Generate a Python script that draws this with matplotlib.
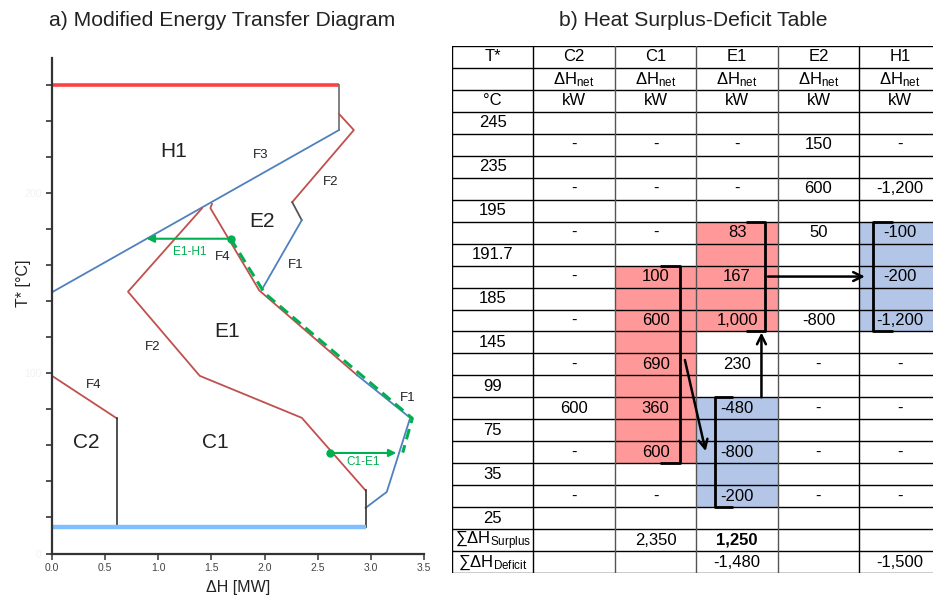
import matplotlib
matplotlib.use("Agg")
import matplotlib.pyplot as plt
from matplotlib.patches import Rectangle

plt.rcParams['font.family'] = ['Liberation Sans', 'DejaVu Sans']
plt.rcParams['mathtext.fontset'] = 'custom'
plt.rcParams['mathtext.rm'] = 'Liberation Sans'
plt.rcParams['mathtext.default'] = 'regular'

# ---- a) energy transfer diagram data (dH in MW, T* in C) ----
top_x, top_y = [0.0, 2.70], [260, 260]
h1_x, h1_y = [0.0, 2.70], [145, 235]
h1_cap_x, h1_cap_y = [2.70, 2.70], [235, 260]
e2_f2_x, e2_f2_y = [2.70, 2.84, 2.26], [244, 235, 195]
e2_step_x, e2_step_y = [2.26, 2.35], [195, 185]
e2_f1_x, e2_f1_y = [2.35, 1.98], [185, 147]
e1_f4_x, e1_f4_y = [1.505, 1.49, 1.95, 2.87], [194, 191.7, 146, 99]
e1_f1_x, e1_f1_y = [2.87, 3.37, 3.15, 2.95], [99, 75.3, 34.2, 25.3]
c1_f2_x, c1_f2_y = [2.95, 2.35, 1.39, 0.715, 1.41], [35, 75.3, 98.6, 145.3, 191.5]
c1_cap_x, c1_cap_y = [2.95, 2.95], [14.5, 35]
c2_f4_x, c2_f4_y = [0.0, 0.61], [98.6, 75]
c2_cap_x, c2_cap_y = [0.61, 0.61], [14.5, 75]
base_x, base_y = [0.0, 2.95], [14.5, 14.5]
green_x = [1.68, 1.72, 2.0, 3.39, 3.30]
green_y = [174.7, 171, 144.5, 75, 56]
e1h1_from, e1h1_to, e1h1_T = 1.68, 0.89, 174.7
c1e1_from, c1e1_to, c1e1_T = 2.62, 3.24, 55.8

# ---- b) heat surplus-deficit table data ----
streams = ['C2', 'C1', 'E1', 'E2', 'H1']
temps = ['245', '235', '195', '191.7', '185', '145', '99', '75', '35', '25']
dh_C2 = ['-', '-', '-', '-', '-', '-', '600', '-', '-']
dh_C1 = ['-', '-', '-', '100', '600', '690', '360', '600', '-']
dh_E1 = ['-', '-', '83', '167', '1,000', '230', '-480', '-800', '-200']
dh_E2 = ['150', '600', '50', '', '-800', '-', '-', '-', '-']
dh_H1 = ['-', '-1,200', '-100', '-200', '-1,200', '-', '-', '-', '-']
surplus = ['', '2,350', '1,250', '', '']
deficit = ['', '', '-1,480', '', '-1,500']

RED = '#c0504d'
BLUE = '#4f81bd'
GREEN = '#00b050'

fig = plt.figure(figsize=(9.33, 5.99), dpi=100)

# ================= left panel =================
ax = fig.add_axes([52 / 933, 45.5 / 599, 372 / 933, 495.5 / 599])
ax.plot(top_x, top_y, color='#ff4040', lw=2.6, solid_capstyle='butt')
ax.plot(h1_cap_x, h1_cap_y, color='#777777', lw=1.3)
ax.plot(h1_x, h1_y, color=BLUE, lw=1.3)
ax.plot(e2_f2_x, e2_f2_y, color=RED, lw=1.3)
ax.plot(e2_step_x, e2_step_y, color='#555555', lw=1.3)
ax.plot(e2_f1_x, e2_f1_y, color=BLUE, lw=1.3)
ax.plot(e1_f4_x, e1_f4_y, color=RED, lw=1.3)
ax.plot(e1_f1_x, e1_f1_y, color=BLUE, lw=1.3)
ax.plot(c1_f2_x, c1_f2_y, color=RED, lw=1.3)
ax.plot(c1_cap_x, c1_cap_y, color='#333333', lw=1.2)
ax.plot(c2_f4_x, c2_f4_y, color=RED, lw=1.3)
ax.plot(c2_cap_x, c2_cap_y, color='#333333', lw=1.2)
ax.plot(base_x, base_y, color='#7fbfff', lw=3.2, solid_capstyle='butt')
ax.plot(green_x, green_y, color=GREEN, lw=2.2, ls=(0, (3.5, 2)))

for x0, x1, t in [(e1h1_from, e1h1_to, e1h1_T), (c1e1_from, c1e1_to, c1e1_T)]:
    ax.plot([x0], [t], 'o', color=GREEN, ms=5)
    ax.annotate('', xy=(x1, t), xytext=(x0, t),
                arrowprops=dict(arrowstyle='-|>', color=GREEN, lw=1.5, mutation_scale=11,
                                shrinkA=0, shrinkB=0))

for txt, x, y, fs, c in [('H1', 1.14, 223, 15, '#222'), ('E2', 1.98, 184.2, 15, '#222'),
                         ('E1', 1.65, 123, 15, '#222'), ('C2', 0.32, 61.4, 15, '#222'),
                         ('C1', 1.54, 61.4, 15, '#222'), ('F3', 1.96, 221.4, 9.5, '#222'),
                         ('F2', 2.62, 206.4, 9.5, '#222'), ('F4', 1.61, 164.7, 9.5, '#222'),
                         ('F1', 2.29, 160.3, 9.5, '#222'), ('F2', 0.95, 114.7, 9.5, '#222'),
                         ('F4', 0.39, 93.6, 9.5, '#222'), ('F1', 3.35, 86.4, 9.5, '#222'),
                         ('E1-H1', 1.30, 167.5, 8.5, GREEN), ('C1-E1', 2.93, 50.8, 8.5, GREEN)]:
    ax.text(x, y, txt, fontsize=fs, color=c, ha='center', va='center')

ax.set_xlim(0, 3.5)
ax.set_ylim(0, 275)
ax.set_xticks([0, 0.5, 1.0, 1.5, 2.0, 2.5, 3.0, 3.5])
ax.set_xticklabels(['0.0', '0.5', '1.0', '1.5', '2.0', '2.5', '3.0', '3.5'])
ax.set_yticks(range(0, 261, 20))
ax.set_yticklabels([str(v) if v % 100 == 0 else '' for v in range(0, 261, 20)])
ax.tick_params(axis='x', labelsize=7.5, colors='#444444', length=4, width=1.2, pad=3)
ax.tick_params(axis='y', labelsize=7.5, labelcolor='#f2f2f2', color='#333333', length=4, width=1.2)
for s in ['top', 'right']:
    ax.spines[s].set_visible(False)
for s in ['left', 'bottom']:
    ax.spines[s].set_color('#333333')
    ax.spines[s].set_linewidth(1.6)
ax.set_xlabel('ΔH [MW]', fontsize=11.5, color='#222222', labelpad=5)
ax.set_ylabel('T* [°C]', fontsize=11.5, color='#222222')
ax.yaxis.set_label_coords(-0.056, 0.546)
fig.text(222 / 933, 1 - 21 / 599, 'a) Modified Energy Transfer Diagram', fontsize=15.2,
         color='#222222', ha='center', va='center')

# ================= right panel: table =================
tb = fig.add_axes([452 / 933, 26 / 599, 488.6 / 933, 527 / 599])
tb.set_xlim(0, 6)
tb.set_ylim(24, 0)
tb.axis('off')

fills = [(3, 8, 5, '#ff9999'), (2, 10, 9, '#ff9999'), (3, 16, 5, '#b4c6e7'), (5, 8, 5, '#b4c6e7')]
for col, row, n, fc in fills:
    tb.add_patch(Rectangle((col, row), 1, n, facecolor=fc, edgecolor='none', zorder=0))

for r in range(25):
    tb.plot([0, 6], [r, r], color='black', lw=1.0, zorder=2)
for c in range(7):
    col_color = '#555555' if c in (2, 3, 4) else 'black'
    tb.plot([c, c], [0, 24], color=col_color, lw=1.0, zorder=2)

fs = 12
tb.text(0.5, 0.5, 'T*', ha='center', va='center', fontsize=fs)
tb.text(0.5, 2.5, '°C', ha='center', va='center', fontsize=fs)
for i, s in enumerate(streams):
    tb.text(i + 1.5, 0.5, s, ha='center', va='center', fontsize=fs)
    tb.text(i + 1.5, 1.55, r'ΔH$_{\mathrm{net}}$', ha='center', va='center', fontsize=fs)
    tb.text(i + 1.5, 2.5, 'kW', ha='center', va='center', fontsize=fs)
for i, t in enumerate(temps):
    tb.text(0.5, 3.5 + 2 * i, t, ha='center', va='center', fontsize=fs)
for j, col in enumerate([dh_C2, dh_C1, dh_E1, dh_E2, dh_H1]):
    for i, v in enumerate(col):
        tb.text(j + 1.5, 4.5 + 2 * i, v, ha='center', va='center', fontsize=fs, zorder=3)
tb.text(0.5, 22.55, r'∑ΔH$_{\mathrm{Surplus}}$', ha='center', va='center', fontsize=fs)
tb.text(0.5, 23.55, r'∑ΔH$_{\mathrm{Deficit}}$', ha='center', va='center', fontsize=fs)
for j in range(5):
    tb.text(j + 1.5, 22.5, surplus[j], ha='center', va='center', fontsize=fs,
            fontweight='bold' if streams[j] == 'E1' else 'normal')
    tb.text(j + 1.5, 23.5, deficit[j], ha='center', va='center', fontsize=fs)

# brackets
kw = dict(color='black', lw=2.0, zorder=4, solid_capstyle='butt')
for xb, xt, r0, r1 in [(3.845, 3.61, 8, 13), (2.80, 2.555, 10, 19),
                       (5.17, 5.41, 8, 13), (3.225, 3.45, 16, 21)]:
    tb.plot([xt, xb, xb, xt], [r0, r0, r1, r1], **kw)

# arrows
akw = dict(arrowstyle='->', color='black', lw=1.8, mutation_scale=16, shrinkA=0, shrinkB=0)
tb.annotate('', xy=(5.07, 10.5), xytext=(3.88, 10.5), arrowprops=akw, zorder=5)
tb.annotate('', xy=(3.115, 18.45), xytext=(2.86, 14.3), arrowprops=akw, zorder=5)
tb.annotate('', xy=(3.80, 13.05), xytext=(3.80, 16.0), arrowprops=akw, zorder=5)

fig.text(693 / 933, 1 - 21 / 599, 'b) Heat Surplus-Deficit Table', fontsize=15.2,
         color='#222222', ha='center', va='center')

fig.savefig('out.png', dpi=100)
